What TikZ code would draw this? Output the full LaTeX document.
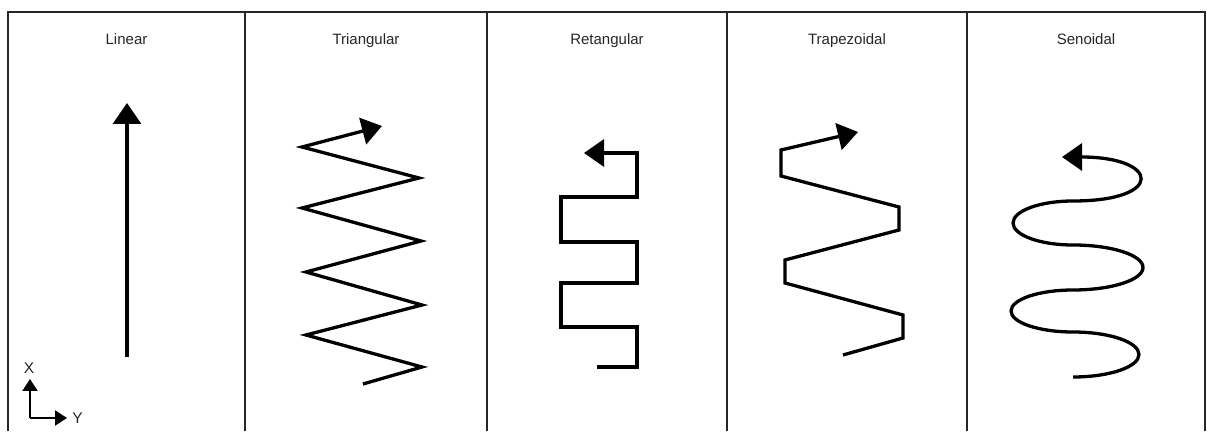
\documentclass[tikz,border=0pt]{standalone}
\usepackage{fontspec}
\setmainfont{Liberation Sans}
\usetikzlibrary{arrows.meta}

\begin{document}
\begin{tikzpicture}[x=1pt,y=1pt,
  frameline/.style={draw=black!85, line width=1.4pt},
  pathline/.style={draw=black, line width=3.3pt},
  bighead/.style={-{Triangle[length=20pt,width=27pt]}},
  smallhead/.style={-{Triangle[length=12pt,width=15pt]}},
  title/.style={font=\fontsize{15}{18}\selectfont, text=black!85, anchor=base, inner sep=0pt},
  axlabel/.style={font=\fontsize{15.5}{18}\selectfont, text=black!85, inner sep=0pt}]
\useasboundingbox (0,0) rectangle (1207,431);

% frame and panel dividers
\draw[frameline] (8,0) -- (8,419) -- (1205,419) -- (1205,0);
\foreach \xd in {245,487,727,967}
  \draw[frameline] (\xd,0) -- (\xd,419);

% panel titles
\node[title] (tLin) at (126.5,386) {Linear};
\node[title] (tTri) at (366,386) {Triangular};
\node[title] (tRet) at (607,386) {Retangular};
\node[title] (tTrap) at (847,386) {Trapezoidal};
\node[title] (tSen) at (1086,386) {Senoidal};

% linear
\coordinate (lin0) at (127,74);
\coordinate (lin1) at (127,328);
\draw[pathline, -{Triangle[length=21pt,width=28pt]}] (lin0) -- (lin1);

% axis sketch
\coordinate (ax0) at (30,13);
\coordinate (axX) at (30,52);
\coordinate (axY) at (67,13);
\draw[line width=2.2pt, smallhead] (ax0) -- (axX);
\draw[line width=2.2pt, smallhead] (ax0) -- (axY);
\node[axlabel] (lblX) at (29,63) {X};
\node[axlabel] (lblY) at (77.5,13) {Y};

% triangular
\draw[pathline, bighead] (363,47) -- (422,64) -- (306,96) -- (422,126)
  -- (306,159) -- (421,190) -- (302,223) -- (419,253) -- (302,284) -- (382,305);

% rectangular
\draw[pathline, bighead] (597,64) -- (637,64) -- (637,104) -- (561,104)
  -- (561,148) -- (637,148) -- (637,189) -- (561,189) -- (561,234)
  -- (637,234) -- (637,278) -- (584,278);

% trapezoidal
\draw[pathline, bighead] (843,76) -- (903,93) -- (903,116) -- (785,148)
  -- (785,171) -- (899,201) -- (899,224) -- (781,255) -- (781,281) -- (858,299);

% sinusoidal: stacked half-ellipses, last lobe ends in the arrow
\coordinate (sen0) at (1073,54);
\coordinate (sen1) at (1062,274);
\draw[pathline, bighead] (sen0)
  arc[start angle=-90, end angle=90, x radius=66, y radius=22.5]
  arc[start angle=-90, end angle=-270, x radius=62, y radius=21]
  arc[start angle=-90, end angle=90, x radius=70, y radius=22.5]
  arc[start angle=-90, end angle=-270, x radius=60, y radius=22]
  .. controls (1165,230) and (1160,274) .. (sen1);
\end{tikzpicture}
\end{document}
